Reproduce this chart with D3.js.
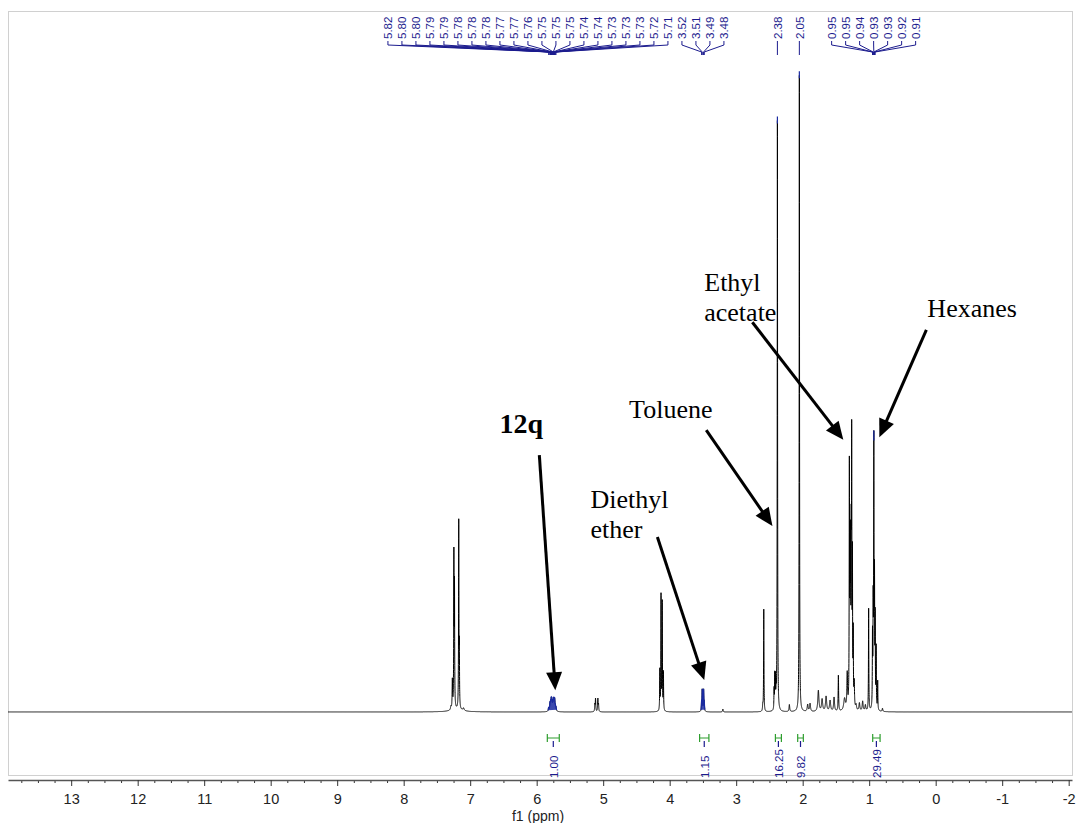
<!DOCTYPE html>
<html><head><meta charset="utf-8">
<script src="https://cdn.jsdelivr.net/npm/d3@7"></script>
<style>
html,body{margin:0;padding:0;background:#fff;}
svg{display:block;}
</style></head>
<body>
<svg id="chart" width="1076" height="823"></svg>
<script>
// 1H NMR spectrum of 12q with residual solvent signals.
// Intensities are relative to the tallest line (2.05 ppm = 100).

// Picked lines (labelled at the top of the spectrum)
const pickedShift = [5.82, 5.80, 5.80, 5.79, 5.79, 5.78, 5.78, 5.78, 5.77, 5.77, 5.76,
  5.75, 5.75, 5.75, 5.74, 5.74, 5.73, 5.73, 5.73, 5.72, 5.71,
  3.52, 3.51, 3.49, 3.48,
  2.38,
  2.05,
  0.95, 0.95, 0.94, 0.93, 0.93, 0.92, 0.91];
const pickedHeight = [0.52, 0.52, 0.52, 0.52, 0.52, 0.52, 0.52, 0.52, 0.52, 0.52, 0.52,
  0.52, 0.52, 0.52, 0.52, 0.52, 0.52, 0.52, 0.52, 0.52, 0.52,
  1.25, 3.3, 3.3, 1.25,
  92.4,
  99.6,
  5.5, 5.5, 14.9, 20.3, 20.3, 18.8, 13.3];
const pickedWidth = [0.006, 0.006, 0.006, 0.006, 0.006, 0.006, 0.006, 0.006, 0.006, 0.006, 0.006,
  0.006, 0.006, 0.006, 0.006, 0.006, 0.006, 0.006, 0.006, 0.006, 0.006,
  0.004, 0.004, 0.004, 0.004,
  0.003,
  0.003,
  0.003, 0.003, 0.003, 0.003, 0.003, 0.003, 0.003];

// Remaining lines of the spectrum (ppm, relative height, half width in ppm)
const lineShift = [7.29, 7.268, 7.245, 7.236, 7.172, 7.163, 7.10, 7.20,
  5.125, 5.115, 5.08, 5.07,
  4.148, 4.130, 4.112, 4.094,
  3.20, 2.60, 2.585, 2.43, 2.42, 2.41, 2.40, 2.20,
  1.925, 1.889, 1.764, 1.708, 1.648, 1.588, 1.528, 1.463,
  1.37, 1.33, 1.298, 1.288, 1.28, 1.27, 1.263, 1.252, 1.24, 1.225,
  1.197, 1.147, 1.098, 1.057,
  1.008, 0.895, 0.872, 0.80];
const lineHeight = [0.5, 4.5, 23.5, 18.5, 29.0, 8.6, 0.4, 0.3,
  1.1, 2.0, 2.0, 1.1,
  6.3, 18.0, 16.9, 5.9,
  0.45, 0.9, 16.0, 3.1, 5.2, 4.7, 2.8, 1.1,
  1.1, 1.25, 3.3, 1.9, 2.35, 1.7, 2.2, 5.6,
  1.9, 5.5, 36.6, 22.7, 22.7, 22.7, 39.1, 21.9, 11.0, 3.9,
  0.8, 1.25, 1.55, 0.95,
  16.0, 9.4, 4.5, 0.5];
const lineWidth = [0.006, 0.004, 0.003, 0.003, 0.003, 0.003, 0.01, 0.12,
  0.004, 0.004, 0.004, 0.004,
  0.003, 0.003, 0.003, 0.003,
  0.005, 0.004, 0.003, 0.003, 0.003, 0.003, 0.003, 0.006,
  0.008, 0.008, 0.01, 0.01, 0.01, 0.01, 0.008, 0.004,
  0.015, 0.006, 0.003, 0.003, 0.003, 0.003, 0.003, 0.003, 0.003, 0.005,
  0.008, 0.008, 0.008, 0.008,
  0.003, 0.003, 0.003, 0.006];

// Integrals
const integralFrom = [5.84, 3.55, 2.41, 2.075, 0.947];
const integralTo = [5.66, 3.41, 2.32, 1.99, 0.836];
const integralValue = ["1.00", "1.15", "16.25", "9.82", "29.49"];

// Axis
const axisTicks = d3.range(13, -3, -1);
const minorTicks = d3.range(-2, 13.9, 0.25).filter(v => Math.abs(v - Math.round(v)) > 1e-6);

// Solvent / product annotations: text anchor and arrow, in (ppm, intensity)
const annotationLines = [["12q"], ["Diethyl", "ether"], ["Toluene"], ["Ethyl", "acetate"], ["Hexanes"]];
const annotationBold = [true, false, false, false, false];
const annotationAt = [[6.56, 43.7], [5.19, 31.9], [4.61, 46.0], [3.48, 65.9], [0.125, 61.8]];
const arrowFrom = [[5.96, 40.2], [4.185, 27.4], [3.45, 44.1], [2.757, 61.0], [0.14, 59.8]];
const arrowTo = [[5.72, 3.4], [3.48, 5.0], [2.455, 29.1], [1.389, 42.6], [0.847, 43.0]];

// ---------------------------------------------------------------
const svg = d3.select("#chart");
const W = 1076, H = 823;
const x = d3.scaleLinear().domain([13.95, -2.05]).range([8, 1072]);
const y = d3.scaleLinear().domain([0, 100]).range([712, 73]);

const navy = "#1c1c8e";
const blue = "#1a2aa0";
const sans = "Liberation Sans, Arial, sans-serif";

// frame
svg.append("rect").attr("x", 8.5).attr("y", 11.5).attr("width", 1064).attr("height", 764)
  .attr("fill", "none").attr("stroke", "#d0d0d0").attr("stroke-width", 1);

// build spectrum as a sum of Lorentzian lines
const shifts = lineShift.concat(pickedShift);
const heights = lineHeight.concat(pickedHeight);
const widths = lineWidth.concat(pickedWidth);
function intensity(p) {
  let s = 0;
  for (let i = 0; i < shifts.length; i++) {
    const u = (p - shifts[i]) / widths[i];
    s += heights[i] / (1 + u * u);
  }
  return s;
}
const step = 0.0005;
const spectrum = [];
for (let p = 13.95; p >= -2.05; p -= step) spectrum.push({ ppm: p, v: intensity(p) });

const line = d3.line().x(d => x(d.ppm)).y(d => y(d.v));
svg.append("path").attr("d", line(spectrum)).attr("fill", "none")
  .attr("stroke", "#000").attr("stroke-width", 1);

// picked regions highlighted
const blueRanges = [[5.83, 5.70], [3.53, 3.47]];
blueRanges.forEach(r => {
  const seg = spectrum.filter(d => d.ppm <= r[0] && d.ppm >= r[1]);
  svg.append("path").attr("d", line(seg)).attr("fill", blue).attr("fill-opacity", 0.85)
    .attr("stroke", blue).attr("stroke-width", 1.2);
});
// apex of the 0.93 multiplet
const hexSeg = spectrum.filter(d => d.ppm <= 0.955 && d.ppm >= 0.905);
const hexTop = d3.max(hexSeg, d => d.v);
svg.append("clipPath").attr("id", "hexclip").append("rect")
  .attr("x", 0).attr("y", y(hexTop) - 4).attr("width", W).attr("height", 14);
svg.append("path").attr("d", line(hexSeg)).attr("fill", "none").attr("clip-path", "url(#hexclip)")
  .attr("stroke", blue).attr("stroke-width", 1.2);
// markers on the singlet apexes
[2.38, 2.05].forEach(p => {
  const top = intensity(p);
  svg.append("line").attr("x1", x(p)).attr("x2", x(p)).attr("y1", y(top) - 4).attr("y2", y(top) + 3)
    .attr("stroke", blue).attr("stroke-width", 1.2);
});

// peak labels
const labelGap = 14;
const groups = [];
pickedShift.forEach(p => {
  const px = x(p);
  const g = groups[groups.length - 1];
  if (g && px - g.items[g.items.length - 1].px < labelGap) g.items.push({ p, px });
  else groups.push({ items: [{ p, px }] });
});
groups.forEach(g => {
  const c = d3.mean(g.items, d => d.px);
  g.start = c - (g.items.length - 1) * labelGap / 2;
});
for (let i = groups.length - 2; i >= 0; i--) {
  const g = groups[i], n = groups[i + 1];
  const end = g.start + (g.items.length - 1) * labelGap;
  if (end > n.start - labelGap) g.start -= end - (n.start - labelGap);
}
const lab = svg.append("g");
groups.forEach(g => {
  g.items.forEach((d, j) => {
    const lx = g.start + j * labelGap;
    lab.append("text").attr("transform", `translate(${lx + 4.5},39) rotate(-90)`)
      .attr("font-family", sans).attr("font-size", 11.5)
      .attr("fill", navy).text(d3.format(".2f")(d.p));
    lab.append("path").attr("d", `M${lx},41V45L${d.px},52V55`)
      .attr("fill", "none").attr("stroke", navy).attr("stroke-width", 1);
  });
});

// integrals
const ig = svg.append("g");
integralValue.forEach((v, i) => {
  const x1 = x(integralFrom[i]), x2 = x(integralTo[i]), cx = (x1 + x2) / 2;
  ig.append("path").attr("d", `M${x1},734V742M${x1},738H${x2}M${x2},734V742`)
    .attr("fill", "none").attr("stroke", "#2e9e2e").attr("stroke-width", 1.2);
  ig.append("path").attr("d", `M${cx},741V747`).attr("stroke", navy).attr("stroke-width", 1.2);
  ig.append("text").attr("transform", `translate(${cx + 4.5},778) rotate(-90)`)
    .attr("font-family", sans).attr("font-size", 11.5)
    .attr("fill", navy).text(v);
});

// axis
const axisY = 780;
const minor = d3.axisBottom(x).tickValues(minorTicks).tickSize(3).tickFormat("");
svg.append("g").attr("transform", `translate(0,${axisY})`).call(minor)
  .call(g => g.select(".domain").remove())
  .call(g => g.selectAll("line").attr("stroke", "#333"));
const major = d3.axisBottom(x).tickValues(axisTicks).tickSize(6).tickSizeOuter(0)
  .tickPadding(8).tickFormat(d => String(d));
svg.append("g").attr("transform", `translate(0,${axisY})`).call(major)
  .call(g => g.select(".domain").attr("stroke", "#555").attr("stroke-width", 1.5))
  .call(g => g.selectAll("line").attr("stroke", "#333"))
  .call(g => g.selectAll("text").attr("font-family", sans)
    .attr("font-size", 14.5).attr("fill", "#222"));
svg.append("text").attr("x", 538).attr("y", 821).attr("text-anchor", "middle")
  .attr("font-family", sans).attr("font-size", 14)
  .attr("fill", "#222").text("f1 (ppm)");

// annotations
const ann = svg.append("g");
annotationLines.forEach((lines, i) => {
  const tx = x(annotationAt[i][0]), ty = y(annotationAt[i][1]);
  lines.forEach((t, k) => {
    ann.append("text").attr("x", tx).attr("y", ty + k * 30)
      .attr("font-family", "Liberation Serif, Times New Roman, serif")
      .attr("font-size", annotationBold[i] ? 28 : 26)
      .attr("font-weight", annotationBold[i] ? "bold" : "normal")
      .attr("fill", "#000").text(t);
  });
  const x0 = x(arrowFrom[i][0]), y0 = y(arrowFrom[i][1]);
  const x1 = x(arrowTo[i][0]), y1 = y(arrowTo[i][1]);
  const dx = x1 - x0, dy = y1 - y0, len = Math.hypot(dx, dy);
  const ux = dx / len, uy = dy / len, L = 18, hw = 8;
  const bx = x1 - ux * L, by = y1 - uy * L;
  ann.append("line").attr("x1", x0).attr("y1", y0).attr("x2", bx + ux * 2).attr("y2", by + uy * 2)
    .attr("stroke", "#000").attr("stroke-width", 3);
  ann.append("path")
    .attr("d", `M${x1},${y1}L${bx - uy * hw},${by + ux * hw}L${bx + uy * hw},${by - ux * hw}Z`)
    .attr("fill", "#000");
});
</script>
</body></html>
